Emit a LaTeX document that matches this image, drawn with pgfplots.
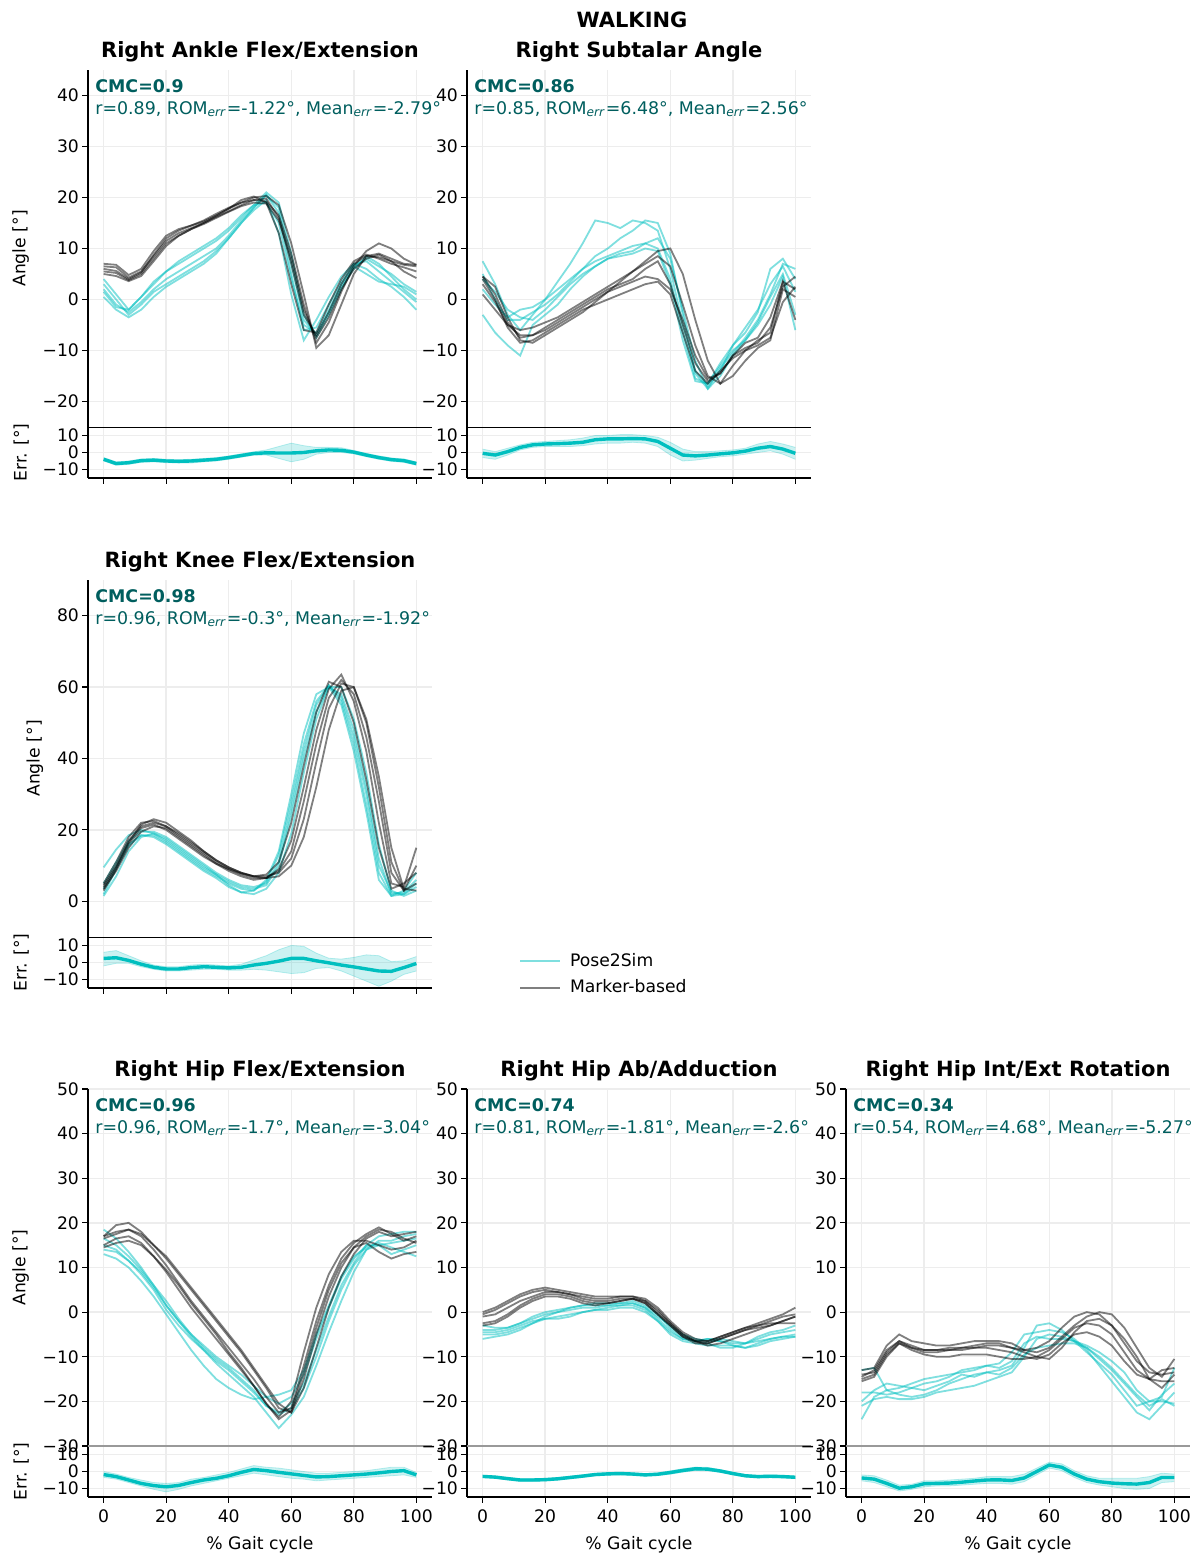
\documentclass[border=0pt]{standalone}
\usepackage{fontspec}
\setmainfont{DejaVu Sans}
\usepackage{pgfplots}
\usepackage{pgfplotstable}
\pgfplotsset{compat=1.18}
\usepgfplotslibrary{fillbetween}
\definecolor{p2s}{RGB}{0,191,191}
\definecolor{cmc}{RGB}{0,94,94}
\newcommand\fs{\fontsize{8.6}{10.3}\selectfont}
\newcommand\fsb{\fontsize{10.5}{12.6}\selectfont\bfseries}
\newcommand\fsa{\fontsize{8.7}{11}\selectfont}
\newcommand\ERR{\textsubscript{\textit{err}}}

% ---------------- data: x, Pose2Sim trials c1..c5, marker-based trials d1..d5
\pgfplotstableread{
x c1 c2 c3 c4 c5 d1 d2 d3 d4 d5
0 2.0 4.0 0.5 1.5 3.0 6.5 7.0 5.5 6.0 5.0
4 -1.0 1.0 -2.0 -1.5 0.0 6.3 6.8 5.2 5.6 4.6
8 -2.5 -2.0 -3.5 -2.0 -3.0 4.3 4.8 3.8 4.0 3.6
12 -0.5 0.5 -2.0 0.5 -1.0 5.5 6.0 5.0 5.3 4.6
16 2.0 3.5 0.5 3.0 1.5 8.5 9.5 8.0 8.8 7.5
20 4.0 5.5 2.5 5.5 3.0 11.5 12.5 11.0 12.0 10.5
24 5.5 7.0 4.0 7.5 4.5 13.0 13.8 12.5 13.5 12.5
28 7.0 8.5 5.5 9.0 6.0 14.0 14.5 13.8 14.5 13.8
32 8.5 10.0 7.0 10.5 7.5 15.0 15.3 15.0 15.5 14.8
36 10.0 11.5 9.0 12.0 9.5 16.2 16.5 16.4 16.8 16.0
40 12.5 13.5 12.0 14.0 12.0 17.3 17.8 17.8 18.0 17.2
44 15.5 16.0 15.0 16.5 15.0 18.5 19.0 19.5 19.0 18.3
48 18.0 18.5 17.5 18.5 18.0 19.5 20.0 20.2 19.5 19.0
52 20.5 21.0 19.5 19.0 20.5 19.8 20.3 19.0 19.2 18.8
56 17.0 19.0 13.0 15.0 18.0 16.0 18.5 13.0 16.5 15.5
60 5.0 9.0 1.0 4.0 7.0 7.0 11.0 3.0 9.0 8.0
64 -6.0 -3.0 -8.0 -5.0 -4.0 -3.0 1.0 -6.0 -1.0 -2.0
68 -5.5 -7.5 -4.0 -6.5 -7.0 -7.0 -9.5 -6.5 -8.5 -7.5
72 -1.0 -3.0 0.5 -2.0 -2.5 -2.5 -7.0 -1.0 -4.5 -3.5
76 3.5 2.0 4.5 3.0 2.5 3.0 -1.0 4.0 1.5 2.0
80 7.0 6.5 7.0 6.5 6.0 7.0 5.0 7.5 6.5 6.0
84 7.5 8.0 6.0 5.0 8.5 8.5 8.5 8.8 9.5 8.0
88 5.5 6.5 4.0 3.5 7.0 8.3 9.0 8.0 11.0 8.8
92 3.5 5.0 2.5 3.0 4.5 7.5 8.0 7.0 10.0 7.5
96 1.5 3.0 0.5 2.5 2.0 6.8 7.0 6.3 8.0 5.5
100 -0.5 1.5 -2.0 1.0 0.0 6.5 6.8 5.5 6.8 4.2
}\tAnkle

\pgfplotstableread{
x c1 c2 c3 c4 c5 d1 d2 d3 d4 d5
0 7.5 5.0 -3.0 2.0 4.0 4.5 4.0 1.0 4.5 3.0
4 3.0 0.0 -6.5 -1.0 1.5 1.0 0.0 -2.0 2.5 -0.5
8 -3.0 -4.0 -9.0 -3.5 -2.0 -4.5 -5.5 -5.0 -3.5 -5.0
12 -6.0 -4.0 -11.0 -2.0 -3.5 -7.5 -8.5 -6.0 -8.0 -7.0
16 -3.0 -2.5 -5.0 -1.5 -4.0 -7.0 -8.0 -5.5 -8.5 -7.0
20 0.0 -1.0 -3.0 0.0 -2.0 -5.5 -6.5 -4.5 -7.0 -6.0
24 3.5 1.0 -1.0 2.0 0.5 -4.0 -5.0 -3.5 -5.5 -4.5
28 7.0 3.5 2.0 4.0 3.0 -2.5 -3.5 -2.0 -4.0 -3.0
32 11.0 6.0 4.5 6.0 5.0 -1.0 -2.0 -0.5 -2.5 -1.5
36 15.5 8.5 6.5 7.5 6.5 0.5 -1.0 1.0 -0.5 0.0
40 15.0 10.0 8.0 8.5 8.0 2.0 0.0 2.5 1.5 1.5
44 14.0 12.0 8.5 9.5 9.0 3.0 1.0 4.0 3.5 2.5
48 15.5 13.5 9.0 10.5 9.5 4.0 2.0 5.5 5.5 3.5
52 15.0 15.5 10.0 11.0 11.0 6.0 3.0 7.0 7.5 4.5
56 13.5 15.0 9.5 10.0 12.0 7.5 3.5 8.5 9.5 4.0
60 6.0 9.0 3.0 4.0 8.0 3.0 1.0 6.5 10.0 2.0
64 -5.0 -3.0 -8.0 -6.5 -2.0 -5.0 -6.5 -1.0 5.0 -4.0
68 -14.0 -14.5 -16.0 -15.5 -12.0 -12.5 -14.0 -9.0 -4.0 -11.0
72 -17.0 -17.5 -16.5 -16.5 -17.5 -16.0 -16.5 -15.0 -12.0 -15.5
76 -14.0 -13.5 -13.0 -12.5 -15.0 -14.5 -14.0 -16.5 -16.5 -14.5
80 -9.0 -10.5 -10.0 -9.0 -11.0 -11.0 -11.5 -13.0 -15.0 -11.0
84 -6.5 -7.5 -8.0 -5.5 -8.0 -9.5 -10.0 -10.0 -12.0 -8.5
88 -2.5 -4.0 -5.0 -2.0 -4.5 -8.5 -9.0 -8.0 -9.5 -7.5
92 6.0 1.0 -1.0 3.0 0.5 -5.5 -7.5 -6.5 -8.0 -3.5
96 8.0 7.0 4.5 6.5 5.0 2.5 -0.5 3.5 2.0 3.5
100 4.0 6.0 -6.0 1.5 -3.0 4.5 2.5 -4.0 0.5 2.0
}\tSubtalar

\pgfplotstableread{
x c1 c2 c3 c4 c5 d1 d2 d3 d4 d5
0 2.0 9.5 1.5 5.0 3.5 3.0 4.0 5.0 3.5 4.5
4 9.0 14.5 7.0 11.0 10.0 9.0 9.5 11.0 8.5 10.0
8 15.5 18.5 14.0 17.0 16.0 16.0 16.5 18.0 15.0 17.0
12 18.5 20.0 18.0 19.5 18.5 20.5 21.5 22.0 19.5 21.0
16 18.5 19.0 19.0 19.5 18.0 21.5 23.0 22.5 21.0 22.0
20 16.5 17.0 17.5 18.0 16.0 20.0 22.0 21.0 20.5 21.0
24 14.0 14.5 15.0 15.5 13.5 17.5 19.5 18.5 18.0 19.0
28 11.5 12.0 12.5 13.0 11.0 15.0 17.0 16.0 15.5 16.5
32 9.0 9.5 10.0 10.5 8.5 12.5 14.0 13.5 13.0 14.0
36 7.0 7.5 7.5 8.0 6.5 10.5 11.5 11.0 10.5 11.5
40 5.0 5.5 4.5 6.0 4.0 9.0 9.5 9.0 8.5 9.5
44 3.5 4.0 2.5 4.5 2.5 7.8 8.0 7.5 7.0 8.0
48 3.0 3.5 2.0 4.0 3.0 7.0 7.0 6.5 6.0 7.0
52 5.5 4.5 3.5 5.0 6.0 7.5 6.5 6.5 6.5 7.0
56 13.0 10.0 8.0 11.0 14.0 11.0 7.0 9.0 8.5 8.0
60 28.0 24.0 19.0 26.0 30.0 22.0 10.0 17.0 14.0 12.0
64 44.0 40.0 36.0 42.0 47.0 38.0 18.0 32.0 28.0 23.0
68 56.0 53.0 51.0 55.0 58.0 53.0 32.0 48.0 44.0 39.0
72 60.5 60.0 60.0 60.5 60.0 61.5 48.0 59.5 57.0 54.0
76 56.0 58.0 60.0 57.0 55.0 60.0 59.0 63.5 62.0 61.0
80 44.0 48.0 51.0 46.0 42.0 50.0 60.0 56.0 58.0 60.0
84 27.0 32.0 36.0 30.0 25.0 34.0 51.0 42.0 46.0 50.0
88 8.0 12.0 16.0 10.0 6.0 15.0 35.0 22.0 28.0 32.0
92 1.5 2.0 3.0 2.5 1.5 3.5 15.0 5.0 8.0 11.0
96 2.0 2.5 1.5 2.0 3.0 5.0 3.5 4.0 3.0 3.0
100 4.0 6.0 3.0 5.0 8.0 8.0 3.0 15.0 10.0 5.0
}\tKnee

\pgfplotstableread{
x c1 c2 c3 c4 c5 d1 d2 d3 d4 d5
0 15.0 18.5 13.0 14.0 16.5 17.0 17.0 15.0 14.5 16.5
4 14.0 16.5 12.0 13.5 15.0 18.0 19.5 16.5 15.5 17.5
8 11.5 13.5 10.0 11.5 12.5 18.5 20.0 17.0 16.0 18.5
12 8.5 10.0 7.0 9.0 9.5 17.0 18.0 15.5 15.0 17.5
16 5.0 6.0 3.5 5.5 6.0 14.0 15.0 12.5 12.5 15.0
20 0.5 1.5 -0.5 1.5 2.5 10.5 12.0 9.0 9.5 12.5
24 -3.0 -2.0 -4.5 -2.0 -1.5 6.5 8.5 5.0 6.0 9.0
28 -6.0 -5.0 -8.5 -5.5 -5.0 2.5 5.0 1.0 2.0 5.5
32 -8.5 -7.5 -12.0 -8.5 -8.0 -1.0 1.5 -2.5 -1.5 2.0
36 -11.0 -10.0 -15.0 -11.5 -10.5 -4.5 -2.0 -6.0 -5.0 -1.5
40 -13.0 -12.0 -17.0 -14.0 -12.5 -8.0 -5.5 -9.5 -9.0 -5.0
44 -15.5 -14.0 -18.5 -16.5 -15.0 -11.5 -9.0 -13.0 -12.5 -8.5
48 -18.0 -16.5 -19.5 -19.0 -17.5 -15.0 -13.0 -16.5 -16.5 -12.5
52 -21.0 -19.0 -19.0 -22.5 -21.0 -19.0 -17.0 -20.5 -20.5 -16.5
56 -23.0 -20.5 -18.5 -26.0 -22.5 -22.5 -21.5 -23.5 -24.0 -20.5
60 -21.5 -19.0 -17.5 -23.0 -20.5 -21.5 -22.5 -20.0 -22.0 -22.5
64 -17.0 -14.0 -13.0 -19.0 -16.0 -12.0 -15.0 -9.0 -13.5 -17.0
68 -10.0 -6.0 -5.0 -12.0 -8.5 -2.0 -5.0 1.0 -3.5 -8.0
72 -2.0 1.0 1.5 -4.5 -1.0 6.0 3.5 8.5 5.0 1.0
76 5.0 7.5 8.0 2.5 6.0 12.0 10.0 13.5 11.0 8.0
80 10.5 12.0 12.5 9.0 11.0 15.5 14.5 16.0 14.5 13.0
84 14.0 15.0 14.5 14.0 15.0 17.5 17.0 16.0 15.5 16.5
88 15.0 17.0 15.5 16.0 15.0 19.0 18.5 15.0 13.5 18.0
92 15.5 17.5 14.5 16.0 13.0 17.5 18.0 14.0 12.0 17.0
96 16.0 18.0 13.5 17.0 14.0 16.0 16.5 14.5 13.0 17.5
100 16.5 18.0 12.5 17.5 15.0 17.0 15.5 16.0 13.5 18.0
}\tHipFlex

\pgfplotstableread{
x c1 c2 c3 c4 c5 d1 d2 d3 d4 d5
0 -4.0 -5.0 -6.0 -3.0 -4.5 -0.5 -1.0 -2.5 0.0 -3.0
4 -4.0 -5.0 -5.5 -3.5 -4.5 0.5 -0.5 -2.0 1.0 -2.5
8 -3.5 -4.5 -5.0 -3.5 -4.0 2.0 1.0 -0.5 2.5 -1.0
12 -2.5 -3.5 -4.0 -2.5 -3.0 3.5 2.5 1.5 4.0 1.0
16 -1.5 -2.5 -2.5 -1.0 -2.0 4.5 3.5 3.0 5.0 2.5
20 -0.5 -1.5 -1.0 0.0 -1.5 5.0 4.5 4.0 5.5 3.5
24 0.0 -1.0 0.0 0.5 -1.5 4.5 4.5 4.0 5.0 3.5
28 0.5 -0.5 1.0 1.0 -1.0 4.0 4.0 3.5 4.5 3.0
32 1.0 0.0 1.5 1.5 0.0 3.5 3.0 2.5 4.0 2.0
36 1.0 0.5 2.0 1.5 0.5 3.0 2.5 2.0 3.5 1.5
40 1.5 0.5 2.0 1.5 1.0 3.0 2.5 2.0 3.5 2.0
44 1.5 1.0 2.0 2.0 1.5 3.5 3.0 2.5 3.5 2.5
48 2.0 1.0 2.5 2.0 1.5 3.5 3.0 3.0 3.5 3.0
52 1.0 0.0 1.5 1.0 0.5 2.5 2.0 2.0 3.0 2.5
56 -1.0 -2.0 -0.5 -1.5 -2.0 0.0 -0.5 -0.5 1.0 0.5
60 -3.0 -4.5 -3.5 -4.0 -5.0 -2.5 -3.0 -3.0 -2.0 -2.5
64 -5.0 -6.0 -5.5 -6.0 -6.5 -5.0 -5.5 -5.5 -4.5 -5.0
68 -6.0 -6.5 -6.5 -6.5 -7.0 -6.5 -7.0 -6.5 -6.0 -6.5
72 -6.5 -6.0 -7.0 -6.0 -7.5 -7.0 -7.0 -6.5 -6.5 -7.5
76 -6.5 -6.5 -8.0 -6.0 -7.5 -6.0 -6.0 -5.5 -5.5 -7.0
80 -7.0 -7.5 -8.0 -6.5 -7.5 -5.0 -5.0 -4.5 -4.5 -6.0
84 -7.0 -8.0 -7.0 -7.0 -8.0 -4.0 -4.0 -3.5 -3.5 -5.0
88 -6.0 -7.0 -6.5 -5.5 -7.5 -3.0 -3.5 -2.5 -3.0 -4.0
92 -5.0 -6.0 -6.0 -4.5 -6.5 -2.0 -3.0 -1.5 -2.5 -3.0
96 -4.5 -5.5 -5.5 -4.0 -6.0 -1.0 -2.0 -0.5 -2.5 -2.0
100 -4.0 -5.0 -5.5 -3.0 -5.5 -0.5 -1.0 1.0 -2.5 -1.0
}\tHipAb

\pgfplotstableread{
x c1 c2 c3 c4 c5 d1 d2 d3 d4 d5
0 -24.0 -13.0 -21.0 -18.0 -20.0 -14.0 -15.5 -13.0 -14.5 -15.0
4 -19.0 -12.5 -19.5 -18.0 -17.5 -13.5 -14.5 -12.5 -13.0 -14.0
8 -17.5 -17.5 -19.0 -18.5 -16.0 -9.0 -10.0 -7.5 -8.5 -9.5
12 -17.0 -18.5 -19.5 -18.0 -16.5 -6.5 -7.0 -5.0 -6.5 -7.0
16 -16.0 -19.0 -19.5 -17.0 -17.0 -7.5 -8.5 -6.5 -8.0 -8.0
20 -15.0 -18.5 -19.0 -16.0 -17.5 -8.5 -9.5 -7.0 -9.0 -8.5
24 -14.5 -17.5 -18.0 -15.5 -16.5 -8.5 -10.0 -7.5 -9.0 -8.5
28 -14.0 -16.0 -17.5 -14.5 -15.5 -8.0 -10.0 -7.5 -8.5 -8.5
32 -13.5 -15.0 -17.0 -13.0 -14.0 -8.0 -9.5 -7.0 -8.5 -8.0
36 -13.0 -14.0 -16.5 -12.5 -14.5 -8.0 -9.5 -6.5 -8.0 -7.5
40 -12.0 -13.5 -15.5 -12.0 -13.5 -7.5 -9.5 -6.5 -8.0 -7.0
44 -11.5 -13.0 -14.5 -12.5 -14.0 -7.5 -10.0 -6.5 -8.5 -7.0
48 -9.0 -12.0 -13.5 -11.0 -12.5 -8.0 -10.5 -7.0 -9.0 -8.0
52 -5.0 -8.0 -10.0 -7.0 -9.5 -8.5 -10.5 -8.5 -10.0 -9.0
56 -4.5 -3.0 -6.0 -5.5 -8.0 -8.0 -10.0 -9.0 -10.5 -10.0
60 -4.0 -2.5 -5.0 -6.0 -7.5 -6.5 -8.5 -8.0 -9.5 -10.5
64 -4.5 -4.0 -5.5 -6.0 -7.0 -3.5 -6.0 -5.5 -7.0 -8.0
68 -6.0 -6.5 -6.5 -6.5 -7.0 -1.0 -3.5 -3.0 -5.0 -4.5
72 -8.5 -9.0 -7.5 -8.0 -8.0 0.0 -2.5 -1.0 -4.5 -2.0
76 -12.0 -11.5 -9.0 -10.5 -10.0 -0.5 -3.0 0.0 -5.5 -1.5
80 -15.5 -14.0 -11.0 -13.0 -12.5 -3.0 -5.0 -0.5 -7.5 -3.0
84 -19.0 -17.5 -13.5 -16.0 -15.5 -7.0 -9.0 -3.5 -11.0 -6.0
88 -22.5 -21.0 -17.5 -19.0 -18.5 -11.0 -13.0 -8.0 -14.0 -10.0
92 -24.0 -20.0 -20.0 -22.0 -21.0 -13.5 -15.0 -12.5 -15.0 -15.0
96 -21.0 -19.0 -20.0 -18.5 -19.5 -14.0 -15.5 -14.5 -13.0 -17.0
100 -18.0 -12.5 -20.5 -16.0 -21.0 -13.5 -15.5 -10.5 -12.5 -14.0
}\tHipRot

% ---------------- error tables: x, mean, lower, upper
\pgfplotstableread{
x m lo hi
0 -4.0 -5.0 -3.0
4 -6.5 -7.5 -5.5
8 -6.0 -7.0 -5.0
12 -4.8 -5.8 -3.8
16 -4.5 -5.5 -3.5
20 -5.0 -6.0 -4.0
24 -5.2 -6.2 -4.2
28 -5.0 -6.2 -4.0
32 -4.5 -5.5 -3.5
36 -4.0 -5.0 -3.0
40 -3.0 -4.0 -2.0
44 -1.8 -2.8 -0.8
48 -0.6 -1.6 0.4
52 -0.2 -1.5 1.5
56 -0.3 -3.5 3.5
60 -0.3 -5.5 5.5
64 0.0 -4.0 4.0
68 1.0 -1.0 3.0
72 1.5 0.0 3.0
76 1.3 0.0 2.8
80 0.2 -0.8 1.2
84 -1.5 -2.5 -0.5
88 -3.0 -4.0 -2.0
92 -4.2 -5.2 -3.2
96 -4.8 -5.8 -3.8
100 -6.5 -7.5 -5.5
}\eAnkle

\pgfplotstableread{
x m lo hi
0 -0.5 -3.0 2.0
4 -1.5 -4.0 0.5
8 0.5 -1.5 2.5
12 3.0 1.5 4.5
16 4.5 3.0 6.0
20 5.0 3.5 6.5
24 5.2 3.5 7.0
28 5.5 3.5 7.5
32 6.0 4.0 8.5
36 7.5 5.0 10.0
40 8.0 5.5 10.0
44 8.0 5.5 10.5
48 8.2 6.0 10.5
52 8.0 5.5 10.0
56 6.5 3.5 9.0
60 2.5 -1.5 6.0
64 -1.5 -5.0 2.0
68 -2.0 -4.5 0.5
72 -1.5 -3.5 0.5
76 -0.8 -2.5 1.0
80 -0.2 -2.0 1.5
84 0.8 -1.0 2.5
88 2.5 0.0 5.0
92 3.5 1.0 6.5
96 2.0 -1.0 5.0
100 -0.5 -4.0 3.0
}\eSubtalar

\pgfplotstableread{
x m lo hi
0 2.4 -2.0 6.0
4 2.8 -0.5 7.0
8 1.2 -0.5 4.0
12 -1.0 -2.5 1.0
16 -2.8 -4.0 -1.5
20 -3.8 -5.0 -2.5
24 -3.8 -5.0 -2.5
28 -3.0 -4.5 -1.5
32 -2.5 -4.0 -1.0
36 -2.8 -4.0 -1.5
40 -3.2 -4.5 -2.0
44 -2.8 -4.5 -1.0
48 -1.5 -4.0 1.5
52 -0.5 -4.5 4.0
56 0.8 -5.5 7.5
60 2.4 -6.5 10.0
64 2.4 -6.0 9.5
68 1.0 -3.5 5.5
72 -0.2 -3.0 2.5
76 -1.5 -5.0 2.0
80 -2.6 -8.0 3.0
84 -3.8 -11.0 4.5
88 -5.0 -14.0 4.0
92 -5.2 -11.0 0.5
96 -3.0 -7.0 1.0
100 -0.6 -5.0 3.5
}\eKnee

\pgfplotstableread{
x m lo hi
0 -1.8 -3.5 0.0
4 -3.0 -4.5 -1.5
8 -5.0 -6.5 -3.5
12 -7.0 -8.5 -5.0
16 -8.3 -10.5 -6.5
20 -9.0 -12.0 -7.0
24 -8.2 -10.5 -6.5
28 -6.5 -8.5 -4.5
32 -5.0 -7.0 -3.5
36 -4.0 -5.5 -2.0
40 -2.5 -4.0 -0.5
44 -0.5 -2.5 1.5
48 1.2 -1.0 3.5
52 0.5 -2.0 2.5
56 -0.5 -3.0 2.0
60 -1.4 -4.0 1.0
64 -2.3 -4.5 0.0
68 -3.2 -5.5 -1.0
72 -3.0 -5.0 -1.0
76 -2.5 -4.5 -0.5
80 -2.0 -4.0 0.0
84 -1.5 -3.5 0.5
88 -0.8 -3.0 1.5
92 0.0 -2.5 2.5
96 0.5 -2.0 2.5
100 -2.0 -3.5 -0.5
}\eHipFlex

\pgfplotstableread{
x m lo hi
0 -2.9 -3.6 -2.2
4 -3.3 -4.0 -2.6
8 -4.2 -5.0 -3.4
12 -5.0 -5.8 -4.2
16 -5.0 -5.8 -4.2
20 -4.8 -5.6 -4.0
24 -4.3 -5.1 -3.5
28 -3.5 -4.3 -2.7
32 -2.7 -3.5 -1.9
36 -1.8 -2.6 -1.0
40 -1.4 -2.2 -0.6
44 -1.2 -2.0 -0.4
48 -1.5 -2.3 -0.7
52 -2.0 -2.8 -1.2
56 -1.6 -2.4 -0.8
60 -0.6 -1.6 0.4
64 0.6 -0.4 1.6
68 1.6 0.6 2.6
72 1.4 0.4 2.4
76 0.3 -0.5 1.1
80 -1.2 -2.0 -0.4
84 -2.5 -3.3 -1.7
88 -3.0 -3.8 -2.2
92 -2.8 -3.6 -2.0
96 -3.0 -3.8 -2.2
100 -3.4 -4.2 -2.6
}\eHipAb

\pgfplotstableread{
x m lo hi
0 -3.8 -5.5 -2.0
4 -4.5 -6.5 -2.5
8 -7.0 -9.0 -5.0
12 -9.8 -11.5 -8.0
16 -9.0 -10.5 -7.5
20 -7.2 -9.0 -5.5
24 -7.0 -8.5 -5.5
28 -6.8 -8.5 -5.0
32 -6.3 -8.0 -4.5
36 -5.6 -7.5 -4.0
40 -5.0 -7.0 -3.0
44 -4.9 -7.0 -3.0
48 -5.3 -7.5 -3.0
52 -3.8 -6.0 -1.5
56 0.0 -2.0 2.0
60 3.8 2.0 5.5
64 2.5 0.5 4.5
68 -1.5 -3.5 0.5
72 -4.5 -6.5 -2.5
76 -6.0 -8.0 -4.0
80 -6.8 -9.0 -4.0
84 -7.2 -10.0 -4.0
88 -7.4 -10.5 -4.0
92 -6.5 -10.0 -3.0
96 -3.5 -6.5 -1.0
100 -3.5 -6.0 -1.5
}\eHipRot

\pgfplotsset{
  base/.style={
    scale only axis, width=172pt, xmin=-5, xmax=105,
    xtick={0,20,40,60,80,100},
    axis x line=bottom, axis y line=left,
    axis line style={-, line width=0.6pt},
    every outer x axis line/.append style={-},
    every outer y axis line/.append style={-},
    grid=major, major grid style={line width=0.7pt, draw=black!7},
    tick style={line width=0.6pt, black}, tick align=outside, major tick length=2.8pt,
    tick label style={font=\fs}, label style={font=\fs},
    yticklabel style={xshift=1.8pt},
    xlabel style={inner sep=0pt, yshift=-3.5pt},
    clip mode=individual,
  },
  mainax/.style={base, height=178.5pt, anchor=south west,
    x axis line style={draw=none}, xtick style={draw=none}, xticklabels={},
    title style={font=\fsb, at={(0.5,1)}, anchor=base, yshift=0.3pt}},
  errax/.style={base, height=25.5pt, anchor=south west, ymin=-15, ymax=15,
    ytick={-10,0,10}, yticklabels={−10,0,10}},
  angA/.style={ymin=-25, ymax=45, ytick={-20,-10,0,10,20,30,40}, yticklabels={−20,−10,0,10,20,30,40}},
  angH/.style={ymin=-30, ymax=50, ytick={-30,-20,-10,0,10,20,30,40,50}, yticklabels={−30,−20,−10,0,10,20,30,40,50}},
  p2sline/.style={draw=p2s, draw opacity=0.5, line width=0.9pt},
  mkline/.style={draw=black, draw opacity=0.5, line width=0.9pt},
}

\newcommand\trials[1]{%
  \pgfplotsinvokeforeach{c1,c2,c3,c4,c5}{\addplot[p2sline, forget plot] table[x=x,y=##1]{#1};}%
  \pgfplotsinvokeforeach{d1,d2,d3,d4,d5}{\addplot[mkline, forget plot] table[x=x,y=##1]{#1};}%
}
\newcommand\errband[1]{%
  \addplot[name path=lo, draw=p2s, draw opacity=0.25, line width=0.4pt, forget plot] table[x=x,y=lo]{#1};
  \addplot[name path=hi, draw=p2s, draw opacity=0.25, line width=0.4pt, forget plot] table[x=x,y=hi]{#1};
  \addplot[fill=p2s, fill opacity=0.2, draw=none, forget plot] fill between[of=lo and hi];
  \addplot[p2s, line width=1.7pt, forget plot] table[x=x,y=m]{#1};
}
\newcommand\stats[2]{\node[anchor=north west, align=left, inner sep=0pt, text=cmc, font=\fsa, xshift=3.5pt, yshift=-4.5pt] at (rel axis cs:0,1) {\textbf{#1}\\#2};}

\begin{document}
\begin{tikzpicture}
\node[font=\fsb, anchor=base] at (316pt,762.75pt) {WALKING};

% ---- Ankle
\begin{axis}[mainax, angA, at={(44pt,563pt)}, ylabel={Angle [°]}, title={Right Ankle Flex/Extension}]
\trials{\tAnkle}
\stats{CMC=0.9}{r=0.89, ROM\ERR=-1.22°, Mean\ERR=-2.79°}
\end{axis}
\begin{axis}[errax, at={(44pt,537.5pt)}, xticklabels={}, ylabel={Err. [°]}]
\errband{\eAnkle}
\draw[line width=0.4pt] (rel axis cs:0,1) -- (rel axis cs:1,1);
\end{axis}

% ---- Subtalar
\begin{axis}[mainax, angA, at={(233.5pt,563pt)}, title={Right Subtalar Angle}]
\trials{\tSubtalar}
\stats{CMC=0.86}{r=0.85, ROM\ERR=6.48°, Mean\ERR=2.56°}
\end{axis}
\begin{axis}[errax, at={(233.5pt,537.5pt)}, xticklabels={}]
\errband{\eSubtalar}
\draw[line width=0.4pt] (rel axis cs:0,1) -- (rel axis cs:1,1);
\end{axis}

% ---- Knee
\begin{axis}[mainax, at={(44pt,308pt)}, ymin=-10, ymax=90, ytick={0,20,40,60,80}, yticklabels={0,20,40,60,80},
  ylabel={Angle [°]}, title={Right Knee Flex/Extension},
  legend style={at={(1.235,-0.022)}, anchor=north west, draw=none, fill=none, font=\fs, row sep=1.2pt, column sep=2.5pt},
  legend cell align=left,
  legend image code/.code={\draw[#1] (0pt,0pt) -- (20pt,0pt);}]
\addlegendimage{p2sline}
\addlegendentry{Pose2Sim}
\addlegendimage{mkline}
\addlegendentry{Marker-based}
\trials{\tKnee}
\stats{CMC=0.98}{r=0.96, ROM\ERR=-0.3°, Mean\ERR=-1.92°}
\end{axis}
\begin{axis}[errax, at={(44pt,282.5pt)}, xticklabels={}, ylabel={Err. [°]}]
\errband{\eKnee}
\draw[line width=0.4pt] (rel axis cs:0,1) -- (rel axis cs:1,1);
\end{axis}

% ---- Hip flexion
\begin{axis}[mainax, angH, at={(44pt,53.5pt)}, ylabel={Angle [°]}, title={Right Hip Flex/Extension}]
\trials{\tHipFlex}
\stats{CMC=0.96}{r=0.96, ROM\ERR=-1.7°, Mean\ERR=-3.04°}
\end{axis}
\begin{axis}[errax, at={(44pt,28pt)}, xticklabels={0,20,40,60,80,100}, ylabel={Err. [°]}, xlabel={\% Gait cycle}]
\errband{\eHipFlex}
\draw[line width=0.8pt, black!40] (rel axis cs:0,1) -- (rel axis cs:1,1);
\end{axis}

% ---- Hip abduction
\begin{axis}[mainax, angH, at={(233.5pt,53.5pt)}, title={Right Hip Ab/Adduction}]
\trials{\tHipAb}
\stats{CMC=0.74}{r=0.81, ROM\ERR=-1.81°, Mean\ERR=-2.6°}
\end{axis}
\begin{axis}[errax, at={(233.5pt,28pt)}, xticklabels={0,20,40,60,80,100}, xlabel={\% Gait cycle}]
\errband{\eHipAb}
\draw[line width=0.8pt, black!40] (rel axis cs:0,1) -- (rel axis cs:1,1);
\end{axis}

% ---- Hip rotation
\begin{axis}[mainax, angH, at={(423pt,53.5pt)}, title={Right Hip Int/Ext Rotation}]
\trials{\tHipRot}
\stats{CMC=0.34}{r=0.54, ROM\ERR=4.68°, Mean\ERR=-5.27°}
\end{axis}
\begin{axis}[errax, at={(423pt,28pt)}, xticklabels={0,20,40,60,80,100}, xlabel={\% Gait cycle}]
\errband{\eHipRot}
\draw[line width=0.8pt, black!40] (rel axis cs:0,1) -- (rel axis cs:1,1);
\end{axis}
\pgfresetboundingbox
\path (0,0) rectangle (601.5pt,776.5pt);
\end{tikzpicture}
\end{document}
